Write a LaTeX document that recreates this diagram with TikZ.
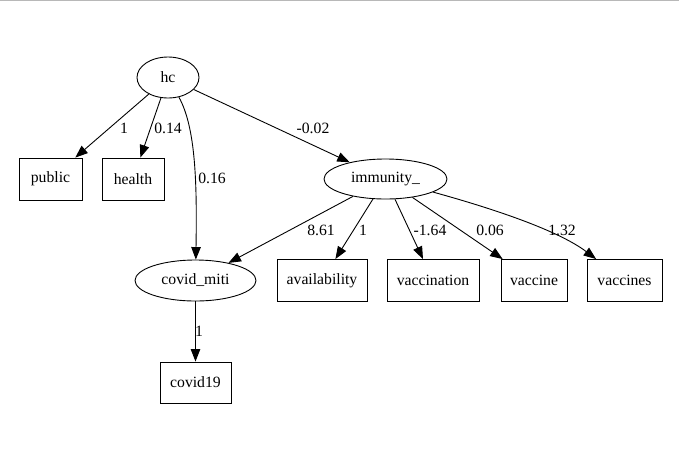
\documentclass[tikz,border=0pt]{standalone}
\usepackage{fontspec}
\setmainfont{Liberation Serif}
\usetikzlibrary{shapes.geometric,arrows.meta}
\begin{document}
\begin{tikzpicture}[x=1pt,y=-1pt,
  every node/.style={font=\fontsize{15.7}{18}\selectfont},
  lat/.style={draw,ellipse,inner sep=0pt,line width=0.9pt},
  obs/.style={draw,rectangle,inner sep=0pt,minimum height=42pt,line width=0.9pt},
  lbl/.style={inner sep=0pt},
  edge/.style={-{Triangle[length=12.5pt,width=9.5pt]},line width=0.9pt}]
\useasboundingbox (0,0) rectangle (679,456);
\fill[black!28] (0,0) rectangle (679,1.3);
% nodes
\node[lat,minimum width=62pt,minimum height=41pt] (hc) at (168,77.5) {hc};
\node[obs,minimum width=63pt] (public) at (50.5,179) {public};
\node[obs,minimum width=62pt] (health) at (133,179) {health};
\node[lat,minimum width=123pt,minimum height=40pt] (imm) at (385.5,179) {immunity\_};
\node[lat,minimum width=121pt,minimum height=41pt] (covid) at (195.5,280.5) {covid\_miti};
\node[obs,minimum width=90pt] (avail) at (322,280.5) {availability};
\node[obs,minimum width=92pt] (vaccination) at (433,280.5) {vaccination};
\node[obs,minimum width=66pt] (vaccine) at (534,280.5) {vaccine};
\node[obs,minimum width=75pt] (vaccines) at (624.5,280.5) {vaccines};
\node[obs,minimum width=71pt,minimum height=41pt] (covid19) at (195.5,382.5) {covid19};
% edges
\draw[edge] (hc) -- (public);
\draw[edge] (hc) -- (health);
\draw[edge] (hc) .. controls (196,128) and (197,185) .. (covid);
\draw[edge] (hc) -- (imm);
\draw[edge] (imm) -- (covid);
\draw[edge] (imm) -- (avail);
\draw[edge] (imm) -- (vaccination);
\draw[edge] (imm) -- (vaccine);
\draw[edge] (imm) .. controls (480,205) and (555,228) .. (vaccines);
\draw[edge] (covid) -- (covid19);
% labels
\node[lbl] (l1) at (124,128) {1};
\node[lbl] (l2) at (168,128) {0.14};
\node[lbl] (l3) at (212,178) {0.16};
\node[lbl] (l4) at (313,128) {-0.02};
\node[lbl] (l5) at (321,230) {8.61};
\node[lbl] (l6) at (363,230) {1};
\node[lbl] (l7) at (430,230) {-1.64};
\node[lbl] (l8) at (490,230) {0.06};
\node[lbl] (l9) at (562,230) {1.32};
\node[lbl] (l10) at (199,331) {1};
\end{tikzpicture}
\end{document}
